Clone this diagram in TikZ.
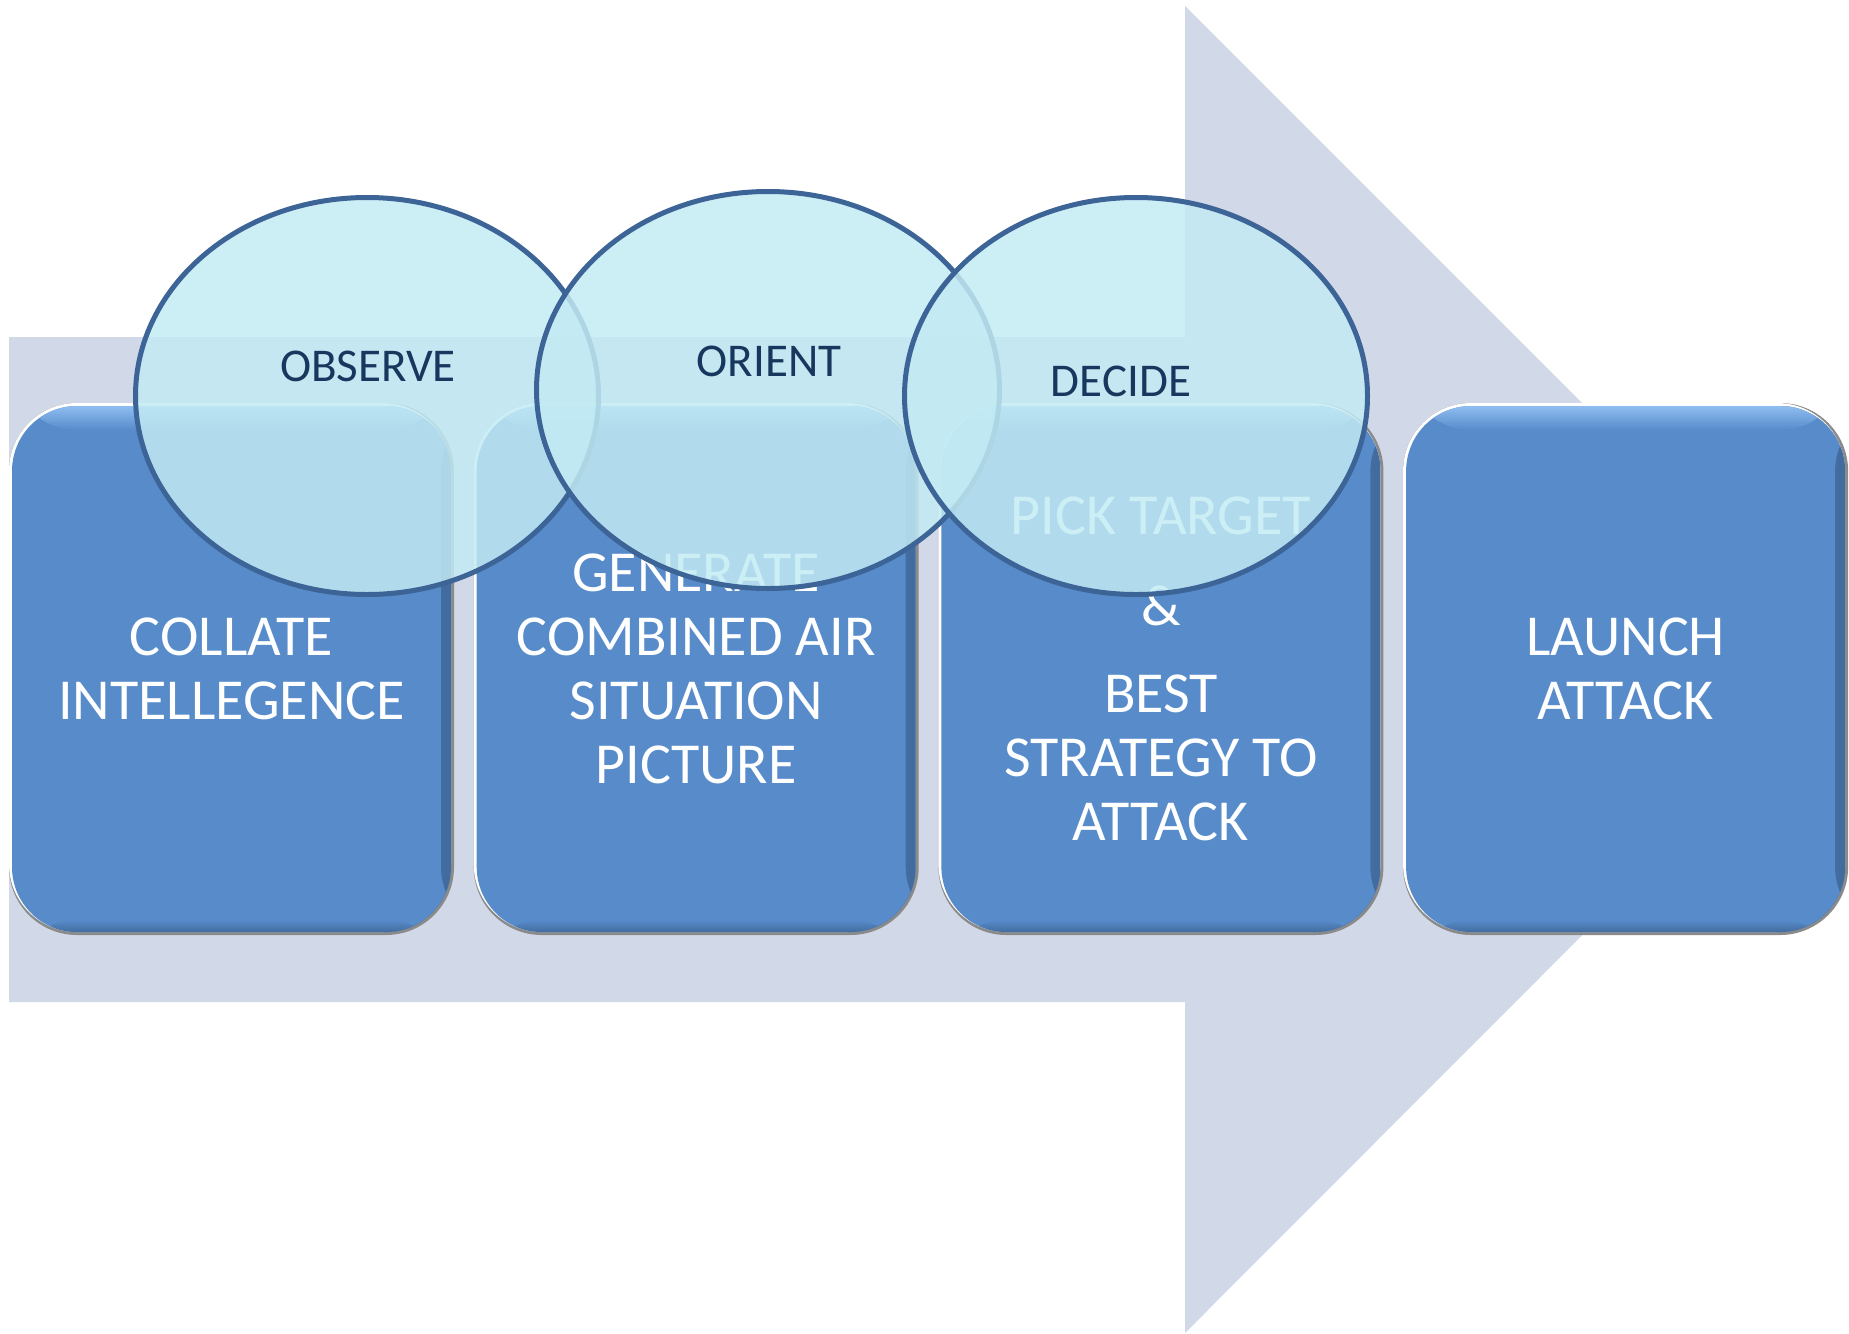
\documentclass[tikz,border=0pt]{standalone}
\usepackage{fontspec}
\setmainfont{Carlito}
\usetikzlibrary{shapes.geometric,calc}
\pgfdeclarelayer{arrowlayer}
\pgfdeclarelayer{boxlayer}
\pgfsetlayers{arrowlayer,boxlayer,main}
\definecolor{arrowc}{HTML}{D1D8E7}
\definecolor{boxblue}{HTML}{578BCA}
\definecolor{boxdark}{HTML}{426C9E}
\definecolor{boxhl}{HTML}{8EBDF0}
\definecolor{framegray}{HTML}{8A8A8A}
\definecolor{ellfill}{RGB}{195,235,244}
\definecolor{elldraw}{HTML}{3D6496}
\definecolor{labc}{HTML}{17375E}
\tikzset{
  stepbox/.style={rectangle, rounded corners=65pt, fill=boxblue,
    minimum width=439pt, minimum height=526pt, inner sep=0pt, outer sep=0pt,
    text=white, align=center, font=\fontsize{58}{64}\selectfont,
    path picture={
      \shade[left color=boxblue, right color=boxdark]
        ([xshift=-10pt]path picture bounding box.north east) rectangle (path picture bounding box.south east);
      \shade[top color=boxhl, bottom color=boxblue]
        (path picture bounding box.north west) rectangle ([yshift=-24pt]path picture bounding box.north east);
      \shade[top color=boxblue, bottom color=boxdark]
        ([yshift=12pt]path picture bounding box.south west) rectangle (path picture bounding box.south east);
    }},
  phase/.style={ellipse, draw=elldraw, line width=5pt, fill=ellfill, fill opacity=0.84,
    minimum width=463pt, minimum height=397pt, inner sep=0pt},
  phaselabel/.style={text=labc, font=\fontsize{47}{56}\selectfont, inner sep=0pt},
  frameouter/.style={fill=framegray, rounded corners=68pt},
  framelight/.style={fill=white, rounded corners=68pt},
}
\begin{document}
\begin{tikzpicture}[x=1pt,y=-1pt]
\useasboundingbox (0,0) rectangle (1849,1333);
\begin{pgfonlayer}{arrowlayer}
  \fill[white] (0,0) rectangle (1849,1333);
  \fill[arrowc] (9,337) -- (1185,337) -- (1185,6) -- (1848,669) -- (1185,1333) -- (1185,1002) -- (9,1002) -- cycle;
\end{pgfonlayer}
\foreach \xa in {9,473.7,938.4,1403.1}{
  \pgfmathsetmacro\xb{\xa+445}
  \begin{pgfonlayer}{boxlayer}
    \fill[frameouter] (\xa,403) rectangle (\xb,935);
    \fill[framelight] (\xa,403) rectangle (\xb-3,932);
  \end{pgfonlayer}
}
\node[stepbox] (b1) at (231.5,669) {COLLATE\\INTELLEGENCE};
\node[stepbox] (b2) at (696.2,669) {GENERATE\\COMBINED AIR\\SITUATION\\PICTURE};
\node[stepbox] (b3) at (1160.9,669) {PICK TARGET\\[27pt]\&\\[23pt]BEST\\STRATEGY TO\\ATTACK};
\node[stepbox] (b4) at (1625.6,669) {LAUNCH\\ATTACK};
\node[phase] (e1) at (367,396) {};
\node[phase] (e2) at (768,390) {};
\node[phase] (e3) at (1136,396) {};
\node[phaselabel] (lobs) at (368,366) {OBSERVE};
\node[phaselabel] (lori) at (769,361) {ORIENT};
\node[phaselabel] (ldec) at (1121,381) {DECIDE};
\end{tikzpicture}
\end{document}
